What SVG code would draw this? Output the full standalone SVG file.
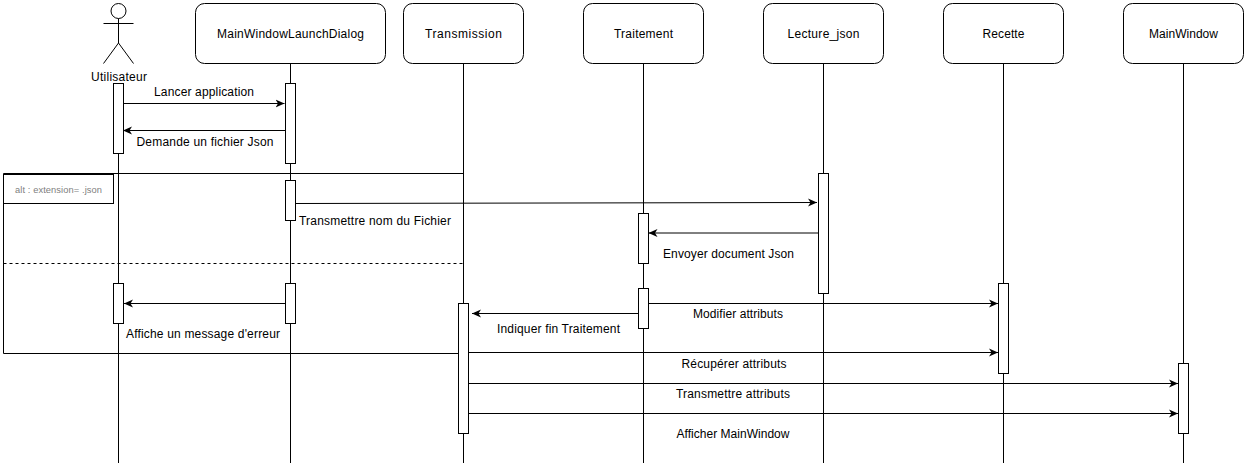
<svg xmlns="http://www.w3.org/2000/svg" width="1247" height="468" viewBox="0 0 1247 468">
<style>
text{font-family:"Liberation Sans",Arial,sans-serif;font-size:12px;fill:#000;text-anchor:middle}
.b{fill:#fff;stroke:#000;stroke-width:1}
.l{fill:none;stroke:#000;stroke-width:1}
.a{fill:none;stroke:#000;stroke-width:1;marker-end:url(#h)}
</style>
<defs><marker id="h" markerUnits="userSpaceOnUse" markerWidth="11" markerHeight="10" refX="9" refY="4.500" orient="auto"><path d="M0 0.500L9 4.500L0 8.500L2.500 4.500Z" fill="#000"/></marker></defs>
<rect width="1247" height="468" fill="#fff"/>
<g id="lifelines">
<path class="l" d="M118.500 153.500L118.500 463M290.500 63.500V463M463.500 63.500V463M643.500 63.500V463M823.500 63.500V463M1003.500 63.500V463M1183.500 63.500V463"/>
</g>
<g id="frame">
<path class="l" d="M463.500 173.500H3.500V353.500H458.500"/>
<path class="l" stroke-dasharray="3 3" d="M3.500 263.500H463.500"/>
<rect class="b" x="3.500" y="174.500" width="110" height="29"/>
<text x="58.500" y="193" textLength="87" style="font-size:9.300px;fill:#808080">alt : extension= .json</text>
</g>
<g id="actor-utilisateur">
<circle class="l" cx="118.500" cy="11" r="7.500"/>
<path class="l" d="M118.500 18.500V43M103.500 23.500H133.500M118.500 43L103.500 63.500M118.500 43L133.500 63.500"/>
<text x="119" y="81" textLength="56">Utilisateur</text>
<rect class="b" x="113.500" y="83.500" width="10" height="70"/>
<rect class="b" x="113.500" y="283.500" width="10" height="40"/>
</g>
<g id="mainwindowlaunchdialog">
<rect class="b" x="195.500" y="3.500" width="190" height="60" rx="9"/>
<text x="290.500" y="38" textLength="147">MainWindowLaunchDialog</text>
<rect class="b" x="285.500" y="83.500" width="10" height="80"/>
<rect class="b" x="285.500" y="180.500" width="10" height="40"/>
<rect class="b" x="285.500" y="283.500" width="10" height="40"/>
</g>
<g id="transmission">
<rect class="b" x="403.500" y="3.500" width="120" height="60" rx="9"/>
<text x="463.500" y="38" textLength="77">Transmission</text>
<rect class="b" x="458.500" y="303.500" width="10" height="130"/>
</g>
<g id="traitement">
<rect class="b" x="583.500" y="3.500" width="120" height="60" rx="9"/>
<text x="643.500" y="38" textLength="59">Traitement</text>
<rect class="b" x="638.500" y="213.500" width="10" height="50"/>
<rect class="b" x="638.500" y="288.500" width="10" height="40"/>
</g>
<g id="lecture-json">
<rect class="b" x="763.500" y="3.500" width="120" height="60" rx="9"/>
<text x="823.500" y="38" textLength="72">Lecture_json</text>
<rect class="b" x="818.500" y="173.500" width="10" height="120"/>
</g>
<g id="recette">
<rect class="b" x="943.500" y="3.500" width="120" height="60" rx="9"/>
<text x="1003.500" y="38" textLength="42">Recette</text>
<rect class="b" x="998.500" y="283.500" width="10" height="90"/>
</g>
<g id="mainwindow">
<rect class="b" x="1123.500" y="3.500" width="120" height="60" rx="9"/>
<text x="1183.500" y="38" textLength="69">MainWindow</text>
<rect class="b" x="1178.500" y="363.500" width="10" height="70"/>
</g>
<g id="connectors">
<path class="a" d="M123.500 103.500H284.500"/>
<path class="a" d="M285.500 130.500H123"/>
<path class="a" d="M295.500 203.500L817 202.500"/>
<path class="a" d="M818.500 233H648.500"/>
<path class="a" d="M285.500 303.500H124"/>
<path class="a" d="M638.500 313.500H472"/>
<path class="a" d="M648.500 303.500H998"/>
<path class="a" d="M468.500 352.500H998"/>
<path class="a" d="M468.500 383.500H1178"/>
<path class="a" d="M468.500 413.500H1178"/>
</g>
<g id="labels">
<text x="204" y="96" textLength="100">Lancer application</text>
<text x="205" y="146" textLength="137">Demande un fichier Json</text>
<text x="375" y="225" textLength="152">Transmettre nom du Fichier</text>
<text x="728.500" y="258" textLength="131">Envoyer document Json</text>
<text x="203" y="338" textLength="154">Affiche un message d'erreur</text>
<text x="558.500" y="333" textLength="123">Indiquer fin Traitement</text>
<text x="738" y="318" textLength="90">Modifier attributs</text>
<text x="734" y="368" textLength="105">Récupérer attributs</text>
<text x="733" y="398" textLength="114">Transmettre attributs</text>
<text x="733" y="438" textLength="113">Afficher MainWindow</text>
</g>
</svg>
